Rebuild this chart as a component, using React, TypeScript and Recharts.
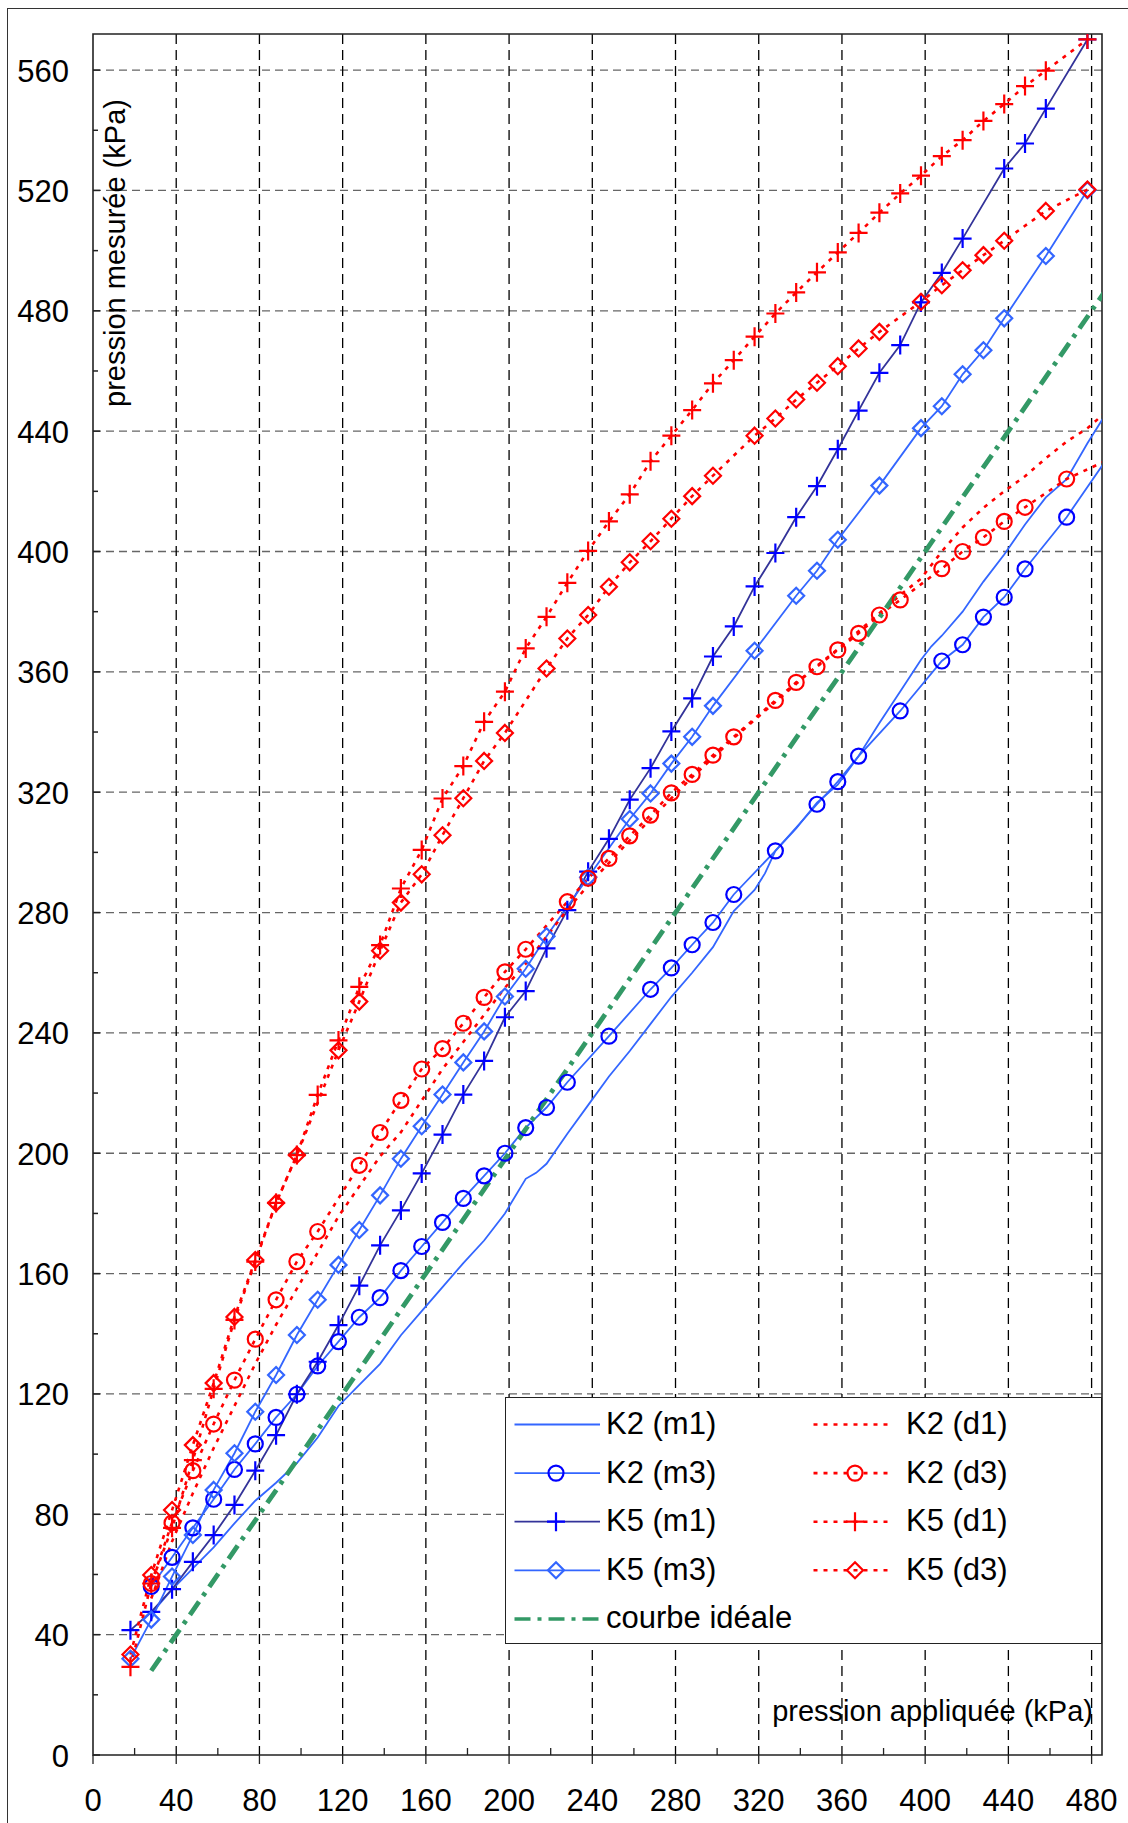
import React from "react";
import {
  LineChart,
  Line,
  XAxis,
  YAxis,
  CartesianGrid,
  ReferenceArea,
  Legend,
} from "recharts";

const K2_M1_X = [28, 38, 48, 58, 68, 78, 88, 98, 108, 118, 128, 138, 148, 158, 168, 178, 188, 198, 208, 213, 218, 228, 238, 248, 258, 268, 278, 288, 298, 308, 318, 323, 328, 338, 348, 358, 368, 378, 388, 398, 403, 408, 418, 428, 438, 448, 458, 468, 478, 488];
const K2_M1_Y = [47, 55, 62, 69, 77, 84.5, 90.5, 97, 105.5, 116, 123, 130, 139.5, 147.5, 155.5, 163.5, 171, 180, 191.5, 193.5, 196.5, 206.5, 216, 225.5, 234, 243, 252, 260, 268.5, 280.5, 287.5, 293, 300.5, 308, 316.5, 322.5, 332, 343, 353.5, 364, 368.5, 372, 380, 390, 399, 409, 418, 424, 436, 447];

const K2_M3_X = [28, 38, 48, 58, 68, 78, 88, 98, 108, 118, 128, 138, 148, 158, 168, 178, 188, 198, 208, 218, 228, 248, 268, 278, 288, 298, 308, 328, 348, 358, 368, 388, 408, 418, 428, 438, 448, 468, 488];
const K2_M3_Y = [56, 65.7, 75.5, 85, 94.9, 103.4, 112.2, 119.9, 129.3, 137.4, 145.5, 152, 161, 169, 177, 185, 192.5, 200, 208.5, 215.2, 223.6, 238.9, 254.5, 261.6, 269.3, 276.7, 286, 300.5, 316, 323.5, 332, 347, 363.6, 369, 378.2, 384.8, 394.2, 411.4, 431.5];

const K5_M1_X = [18, 28, 38, 48, 58, 68, 78, 88, 98, 108, 118, 128, 138, 148, 158, 168, 178, 188, 198, 208, 218, 228, 238, 248, 258, 268, 278, 288, 298, 308, 318, 328, 338, 348, 358, 368, 378, 388, 398, 408, 418, 438, 448, 458, 478];
const K5_M1_Y = [41.5, 47.6, 55.1, 64.2, 73.1, 83.1, 94.5, 106.3, 119.9, 130.7, 142.9, 156, 169.4, 181, 193.3, 206.2, 219.5, 230.7, 245.2, 253.9, 268.1, 280.8, 293.6, 304.5, 317.5, 328, 340.2, 351.2, 365.1, 375.1, 388.4, 399.5, 411.4, 421.7, 434, 446.8, 459.4, 468.6, 482.8, 492.6, 504, 527.3, 535.6, 547.2, 570.2];

const K5_M3_X = [18, 28, 38, 48, 58, 68, 78, 88, 98, 108, 118, 128, 138, 148, 158, 168, 178, 188, 198, 208, 218, 238, 258, 268, 278, 288, 298, 318, 338, 348, 358, 378, 398, 408, 418, 428, 438, 458, 478];
const K5_M3_Y = [32, 45, 59.3, 73.1, 88.1, 100.3, 114.1, 126.3, 139.6, 151.3, 162.9, 174.5, 186, 198.2, 209, 219.5, 230.2, 240.5, 252.1, 261.3, 272.1, 291.7, 311.1, 319.6, 329.5, 338.4, 348.7, 367, 385.3, 393.6, 403.9, 421.9, 441, 448.3, 458.9, 466.9, 477.5, 498.2, 520.1];

const K2_D1_X = [28, 38, 48, 58, 68, 78, 88, 98, 108, 118, 128, 138, 148, 158, 168, 178, 188, 198, 208, 218, 228, 238, 248, 258, 268, 278, 288, 298, 308, 318, 328, 338, 348, 358, 368, 378, 388, 398, 408, 418, 428, 438, 448, 458, 468, 478, 488];
const K2_D1_Y = [52, 71, 87, 102, 116, 130, 143, 155, 167, 179, 189, 199, 207, 217.5, 228, 237, 246, 255, 263, 272, 281, 289, 296.5, 304, 311, 318, 325, 331.5, 338, 344, 350, 356, 362, 367.5, 373.5, 379.5, 385.5, 391, 400, 408, 414.5, 420, 425, 431, 436.5, 441, 447];

const K2_D3_X = [28, 38, 48, 58, 68, 78, 88, 98, 108, 128, 138, 148, 158, 168, 178, 188, 198, 208, 228, 238, 248, 258, 268, 278, 288, 298, 308, 328, 338, 348, 358, 368, 378, 388, 408, 418, 428, 438, 448, 468, 488];
const K2_D3_Y = [57, 77.2, 94.5, 110, 124.6, 138.2, 151.3, 164, 174, 196, 206.9, 217.6, 228, 234.8, 243.2, 251.8, 260.3, 267.8, 283.6, 291.4, 298, 305.5, 312.4, 319.8, 325.9, 332.3, 338.4, 350.5, 356.5, 361.7, 367.3, 372.8, 378.9, 383.9, 394.3, 400, 404.7, 410, 414.7, 424.1, 430.5];

const K5_D1_X = [18, 28, 38, 48, 58, 68, 78, 88, 98, 108, 118, 128, 138, 148, 158, 168, 178, 188, 198, 208, 218, 228, 238, 248, 258, 268, 278, 288, 298, 308, 318, 328, 338, 348, 358, 368, 378, 388, 398, 408, 418, 428, 438, 448, 458, 478];
const K5_D1_Y = [29.3, 57, 75.5, 98, 121.7, 144.6, 164, 183.5, 199.4, 219.4, 237.5, 255.3, 269.2, 288, 300.8, 317.9, 328.7, 343.4, 353.4, 367.8, 378.3, 389.6, 400.2, 410, 419, 430, 438.5, 447, 455.9, 463.6, 471.4, 479.1, 486.1, 492.8, 499.4, 505.9, 512.6, 519, 524.9, 531.4, 536.7, 543.1, 548.7, 554.7, 559.8, 570.2];

const K5_D3_X = [18, 28, 38, 48, 58, 68, 78, 88, 98, 118, 128, 138, 148, 158, 168, 178, 188, 198, 218, 228, 238, 248, 258, 268, 278, 288, 298, 318, 328, 338, 348, 358, 368, 378, 398, 408, 418, 428, 438, 458, 478];
const K5_D3_Y = [33.4, 59.8, 81.4, 103, 123.6, 145.6, 164.5, 183.5, 199.4, 234.2, 250.4, 267.3, 283.3, 292.7, 305.7, 318, 330.4, 339.7, 361.1, 371.1, 378.9, 388.3, 396.4, 403.4, 410.9, 418.4, 425.2, 438.5, 444.2, 450.5, 456.1, 461.6, 467.5, 473, 483, 488.5, 493.5, 498.5, 503.3, 513.2, 520.3];

const IDEAL_X = [28, 490];
const IDEAL_Y = [28, 490];

const X_TICKS = [0, 20, 40, 60, 80, 100, 120, 140, 160, 180, 200, 220, 240, 260, 280, 300, 320, 340, 360, 380, 400, 420, 440, 460, 480];
const Y_TICKS = [0, 20, 40, 60, 80, 100, 120, 140, 160, 180, 200, 220, 240, 260, 280, 300, 320, 340, 360, 380, 400, 420, 440, 460, 480, 500, 520, 540, 560];
const X_GRID = [40, 80, 120, 160, 200, 240, 280, 320, 360, 400, 440, 480];
const Y_GRID = [40, 80, 120, 160, 200, 240, 280, 320, 360, 400, 440, 480, 520, 560];

const X_MAX = 485;
const Y_MAX = 572;

const W = 1128;
const H = 1823;
const PLOT_LEFT = 93;
const PLOT_TOP = 34;
const PLOT_RIGHT = 1102;
const PLOT_BOTTOM = 1755;
const FONT = "'Liberation Sans', Arial, sans-serif";

const BLUE = "#3366ff";
const DARK_BLUE = "#0000ff";
const NAVY = "#333399";
const RED = "#ff0000";
const GREEN = "#339966";
const RED_DASH = "4 6";
const GREEN_DASH = "16 7 4 7";

type MarkerKind = "none" | "circle" | "plus" | "diamond";

type Series = {
  name: string;
  xs: number[];
  ys: number[];
  stroke: string;
  width: number;
  dash?: string;
  marker: MarkerKind;
  markerColor: string;
  col: number;
  row: number;
};

const SERIES: Series[] = [
  { name: "K2 (m1)", xs: K2_M1_X, ys: K2_M1_Y, stroke: BLUE, width: 1.8, marker: "none", markerColor: BLUE, col: 0, row: 0 },
  { name: "K2 (m3)", xs: K2_M3_X, ys: K2_M3_Y, stroke: BLUE, width: 1.8, marker: "circle", markerColor: DARK_BLUE, col: 0, row: 1 },
  { name: "K5 (m1)", xs: K5_M1_X, ys: K5_M1_Y, stroke: NAVY, width: 1.8, marker: "plus", markerColor: DARK_BLUE, col: 0, row: 2 },
  { name: "K5 (m3)", xs: K5_M3_X, ys: K5_M3_Y, stroke: BLUE, width: 1.8, marker: "diamond", markerColor: BLUE, col: 0, row: 3 },
  { name: "K2 (d1)", xs: K2_D1_X, ys: K2_D1_Y, stroke: RED, width: 2.6, dash: RED_DASH, marker: "none", markerColor: RED, col: 1, row: 0 },
  { name: "K2 (d3)", xs: K2_D3_X, ys: K2_D3_Y, stroke: RED, width: 2.6, dash: RED_DASH, marker: "circle", markerColor: RED, col: 1, row: 1 },
  { name: "K5 (d1)", xs: K5_D1_X, ys: K5_D1_Y, stroke: RED, width: 2.6, dash: RED_DASH, marker: "plus", markerColor: RED, col: 1, row: 2 },
  { name: "K5 (d3)", xs: K5_D3_X, ys: K5_D3_Y, stroke: RED, width: 2.6, dash: RED_DASH, marker: "diamond", markerColor: RED, col: 1, row: 3 },
  { name: "courbe idéale", xs: IDEAL_X, ys: IDEAL_Y, stroke: GREEN, width: 4.8, dash: GREEN_DASH, marker: "none", markerColor: GREEN, col: 0, row: 4 },
];

const MarkerShape = ({ kind, cx, cy, color }: { kind: MarkerKind; cx: number; cy: number; color: string }) => {
  if (kind === "circle") {
    return <circle cx={cx} cy={cy} r={7.5} fill="none" stroke={color} strokeWidth={2.2} />;
  }
  if (kind === "plus") {
    return (
      <path
        d={`M${cx - 9},${cy}H${cx + 9}M${cx},${cy - 9.5}V${cy + 9.5}`}
        fill="none"
        stroke={color}
        strokeWidth={2.2}
      />
    );
  }
  if (kind === "diamond") {
    return (
      <path
        d={`M${cx},${cy - 8}L${cx + 8},${cy}L${cx},${cy + 8}L${cx - 8},${cy}Z`}
        fill="none"
        stroke={color}
        strokeWidth={2.2}
      />
    );
  }
  return null;
};

const makeDot = (s: Series) => (props: any) => {
  const { cx, cy, payload, index } = props;
  const key = `${s.name}-${index}`;
  if (cx == null || cy == null || payload.x > X_MAX) return <g key={key} />;
  return (
    <g key={key}>
      <MarkerShape kind={s.marker} cx={cx} cy={cy} color={s.markerColor} />
    </g>
  );
};

const YTick = (props: any) => {
  const { y, payload } = props;
  const v = payload.value as number;
  const major = v % 40 === 0;
  return (
    <g>
      <line x1={PLOT_LEFT} x2={PLOT_LEFT + (major ? 7 : 5)} y1={y} y2={y} stroke="#222" strokeWidth={1.5} />
      {major && (
        <text x={PLOT_LEFT - 24} y={y + 11.5} textAnchor="end" fontSize={31} fontFamily={FONT} fill="#000">
          {v}
        </text>
      )}
    </g>
  );
};

const XTick = (props: any) => {
  const { x, payload } = props;
  const v = payload.value as number;
  const major = v % 40 === 0;
  return (
    <g>
      {major ? (
        <line x1={x} x2={x} y1={PLOT_BOTTOM} y2={PLOT_BOTTOM + 9} stroke="#222" strokeWidth={1.3} />
      ) : (
        <line x1={x} x2={x} y1={PLOT_BOTTOM} y2={PLOT_BOTTOM - 7} stroke="#222" strokeWidth={1.3} />
      )}
      {major && (
        <text x={x} y={PLOT_BOTTOM + 56} textAnchor="middle" fontSize={31} fontFamily={FONT} fill="#000">
          {v}
        </text>
      )}
    </g>
  );
};

const LEGEND_LEFT = 505;
const LEGEND_TOP = 1397;
const LEGEND_W = 597;
const LEGEND_H = 247;
const LEG_COLS = [
  { x1: 8.5, x2: 94, mx: 50, tx: 100 },
  { x1: 307.5, x2: 386, mx: 349, tx: 400 },
];
const LEG_ROW0 = 26.5;
const LEG_ROW_STEP = 48.6;

const LegendBox = () => (
  <div
    style={{
      width: LEGEND_W,
      height: LEGEND_H,
      boxSizing: "border-box",
      border: "1.5px solid #222",
      background: "#fff",
    }}
  >
    <svg width={LEGEND_W - 3} height={LEGEND_H - 3} style={{ display: "block" }}>
      {SERIES.map((s) => {
        const c = LEG_COLS[s.col];
        const y = LEG_ROW0 + s.row * LEG_ROW_STEP;
        return (
          <g key={s.name}>
            <line
              x1={c.x1}
              x2={c.x2}
              y1={y}
              y2={y}
              stroke={s.stroke}
              strokeWidth={s.row === 4 ? 3.5 : s.width}
              strokeDasharray={s.dash}
            />
            <MarkerShape kind={s.marker} cx={c.mx} cy={y} color={s.markerColor} />
            <text x={c.tx} y={y + 9.5} fontSize={31} fontFamily={FONT} fill="#000">
              {s.name}
            </text>
          </g>
        );
      })}
    </svg>
  </div>
);

export default function App() {
  return (
    <div
      style={{
        position: "absolute",
        left: 0,
        top: 0,
        width: W,
        height: H,
        overflow: "hidden",
        background: "#fff",
        fontFamily: FONT,
      }}
    >
      {/* outer frame, only left and top edges are inside the picture */}
      <div
        style={{
          position: "absolute",
          left: 7,
          top: 8,
          width: W - 7,
          height: H - 8,
          borderLeft: "1.5px solid #333",
          borderTop: "1.5px solid #333",
        }}
      />
      <div style={{ position: "absolute", left: 0, top: 0 }}>
        <LineChart
          width={W}
          height={H}
          margin={{ top: PLOT_TOP, left: PLOT_LEFT - 1, right: W - PLOT_RIGHT, bottom: H - PLOT_BOTTOM - 1 }}
        >
          <CartesianGrid
            vertical={false}
            horizontalValues={Y_GRID}
            stroke="#666"
            strokeWidth={1.3}
            strokeDasharray="8 5"
          />
          <CartesianGrid
            horizontal={false}
            verticalValues={X_GRID}
            stroke="#000"
            strokeWidth={1.3}
            strokeDasharray="10 6"
          />
          <XAxis
            type="number"
            dataKey="x"
            domain={[0, X_MAX]}
            allowDataOverflow
            ticks={X_TICKS}
            interval={0}
            height={1}
            axisLine={false}
            tickLine={false}
            tick={<XTick />}
          />
          <YAxis
            type="number"
            dataKey="y"
            domain={[0, Y_MAX]}
            allowDataOverflow
            ticks={Y_TICKS}
            interval={0}
            width={1}
            axisLine={false}
            tickLine={false}
            tick={<YTick />}
          />
          <ReferenceArea
            x1={0}
            x2={X_MAX}
            y1={0}
            y2={Y_MAX}
            fill="none"
            fillOpacity={0}
            stroke="#222"
            strokeWidth={1.6}
            ifOverflow="visible"
          />
          {SERIES.map((s) => (
            <Line
              key={s.name}
              name={s.name}
              data={s.xs.map((x, i) => ({ x, y: s.ys[i] }))}
              dataKey="y"
              type="linear"
              stroke={s.stroke}
              strokeWidth={s.width}
              strokeDasharray={s.dash}
              dot={s.marker === "none" ? false : makeDot(s)}
              activeDot={false}
              isAnimationActive={false}
            />
          ))}
          <Legend
            layout="horizontal"
            verticalAlign="middle"
            align="center"
            content={() => <LegendBox />}
            wrapperStyle={{
              position: "absolute",
              left: LEGEND_LEFT,
              top: LEGEND_TOP,
              width: LEGEND_W,
              height: LEGEND_H,
            }}
          />
        </LineChart>
      </div>
      <svg
        width={W}
        height={H}
        style={{ position: "absolute", left: 0, top: 0, pointerEvents: "none" }}
      >
        <text
          x={124.5}
          y={253}
          transform="rotate(-90 124.5 253)"
          textAnchor="middle"
          fontSize={29}
          fontFamily={FONT}
          fill="#000"
        >
          pression mesurée (kPa)
        </text>
        <text x={1093} y={1721} textAnchor="end" fontSize={29} fontFamily={FONT} fill="#000">
          pression appliquée (kPa)
        </text>
      </svg>
    </div>
  );
}
